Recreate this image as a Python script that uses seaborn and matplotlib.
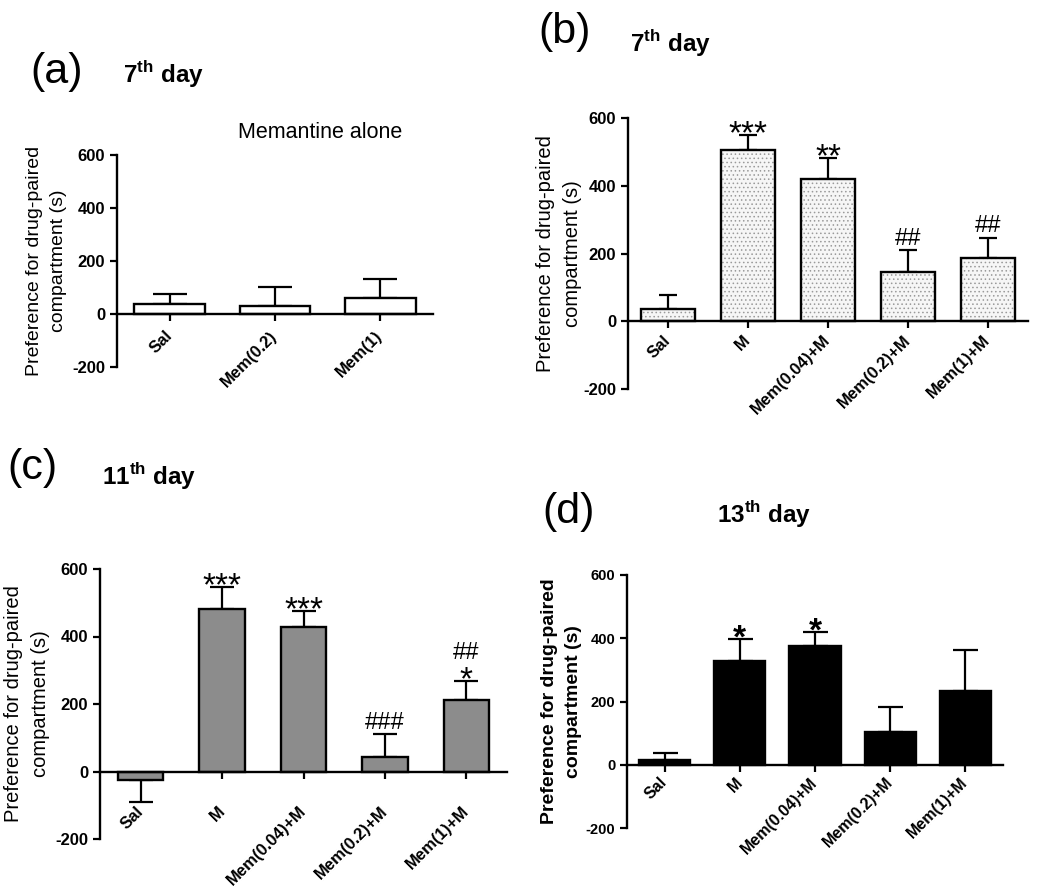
import numpy as np
import pandas as pd
import matplotlib
matplotlib.use("Agg")
import matplotlib.pyplot as plt
import seaborn as sns

# ---------------- data ----------------
cats_a = ["Sal", "Mem(0.2)", "Mem(1)"]
mean_a = [36, 31, 62]
sem_a = [39, 70, 69]

cats_bcd = ["Sal", "M", "Mem(0.04)+M", "Mem(0.2)+M", "Mem(1)+M"]

mean_b = [35, 507, 420, 146, 188]
sem_b = [43, 42, 61, 63, 58]
star_b = ["", "***", "**", "", ""]
hash_b = ["", "", "", "##", "##"]

mean_c = [-25, 482, 427, 42, 212]
sem_c = [64, 66, 49, 68, 55]
star_c = ["", "***", "***", "", "*"]
hash_c = ["", "", "", "###", "##"]

mean_d = [14, 328, 374, 105, 233]
sem_d = [23, 70, 45, 78, 129]
star_d = ["", "*", "*", "", ""]
hash_d = ["", "", "", "", ""]

yticks = [-200, 0, 200, 400, 600]
ylabel = "Preference for drug-paired\ncompartment (s)"

# ---------------- style ----------------
sns.set_theme(style="ticks")
plt.rcParams["font.family"] = ["Liberation Sans", "DejaVu Sans"]
plt.rcParams["mathtext.fontset"] = "custom"
plt.rcParams["mathtext.rm"] = "Liberation Sans"
plt.rcParams["mathtext.bf"] = "Liberation Sans:bold"
plt.rcParams["hatch.linewidth"] = 0.6
for k in ("text.color", "axes.labelcolor", "xtick.color", "ytick.color",
          "axes.edgecolor"):
    plt.rcParams[k] = "black"

W, H = 1050, 893
fig = plt.figure(figsize=(W / 100, H / 100), dpi=100)


def rect(x0, y0, x1, y1):
    return [x0 / W, 1 - y1 / H, (x1 - x0) / W, (y1 - y0) / H]


def panel(ax, cats, means, sems, face, width, capsize, hatch=None,
          xfs=12, yfs=12, lab_fs=14, lab_bold=False, lab_x=-0.12, xpad=9):
    n = len(cats)
    df = pd.DataFrame({"group": cats, "value": means})
    if hatch:
        sns.barplot(data=df, x="group", y="value", order=cats, color=face,
                    edgecolor="#9a9a9a", linewidth=0, width=width,
                    errorbar=None, hatch=hatch, ax=ax, zorder=2)
        sns.barplot(data=df, x="group", y="value", order=cats, color="black",
                    fill=False, linewidth=1.7, width=width, errorbar=None,
                    ax=ax, zorder=3)
    else:
        sns.barplot(data=df, x="group", y="value", order=cats, color=face,
                    edgecolor="black", linewidth=1.7, width=width,
                    saturation=1, errorbar=None, ax=ax, zorder=2)
    lo = [s if m < 0 else 0 for m, s in zip(means, sems)]
    hi = [0 if m < 0 else s for m, s in zip(means, sems)]
    ax.errorbar(np.arange(n), means, yerr=[lo, hi], fmt="none",
                ecolor="black", elinewidth=1.6, capsize=capsize,
                capthick=1.6, zorder=1)
    ax.set_xlim(-0.5, n - 0.5)
    ax.set_ylim(-200, 600)
    ax.spines["bottom"].set_position(("data", 0))
    ax.spines["top"].set_visible(False)
    ax.spines["right"].set_visible(False)
    for s in ("left", "bottom"):
        ax.spines[s].set_linewidth(1.7)
        ax.spines[s].set_color("black")
    ax.tick_params(axis="both", width=1.6, length=5, color="black",
                   labelcolor="black")
    ax.tick_params(axis="x", pad=xpad, labelrotation=45)
    ax.set_yticks(yticks)
    ax.set_yticklabels([str(t) for t in yticks], fontsize=yfs,
                       fontweight="bold")
    ax.set_xticks(np.arange(n))
    ax.set_xticklabels(cats, fontsize=xfs, fontweight="bold")
    for lab in ax.get_xticklabels():
        lab.set_rotation(45)
        lab.set_ha("right")
        lab.set_va("center")
        lab.set_rotation_mode("anchor")
    ax.set_xlabel("")
    ax.set_ylabel(ylabel, fontsize=lab_fs,
                  fontweight="bold" if lab_bold else "normal",
                  linespacing=1.55)
    ax.yaxis.set_label_coords(lab_x, 0.5)
    ax.set_facecolor("white")


def marks(ax, means, sems, stars, hashes, star_fs=24, hash_fs=17,
          star_bold=False):
    for i, (m, s) in enumerate(zip(means, sems)):
        top = m + s if m >= 0 else m
        off = 0
        if stars[i]:
            ax.annotate(stars[i], xy=(i, top), xytext=(0, -6),
                        textcoords="offset points", ha="center",
                        va="baseline", fontsize=star_fs,
                        fontweight="bold" if star_bold else "normal")
            off = 12
        if hashes[i]:
            ax.annotate(hashes[i], xy=(i, top), xytext=(0, 4 + off),
                        textcoords="offset points", ha="center",
                        va="baseline", fontsize=hash_fs)


# panel (a)
ax_a = fig.add_axes(rect(117, 155, 433, 367))
panel(ax_a, cats_a, mean_a, sem_a, "white", 0.67, 12, lab_x=-0.158, xpad=9)
ax_a.text(0.383, 1.104, "Memantine alone", transform=ax_a.transAxes,
          ha="left", va="center", fontsize=15.5)

# panel (b)
ax_b = fig.add_axes(rect(628, 118, 1028, 389))
panel(ax_b, cats_bcd, mean_b, sem_b, "#f6f6f6", 0.67, 6.5, hatch="....",
      lab_fs=14.5, lab_x=-0.115, xpad=7)
marks(ax_b, mean_b, sem_b, star_b, hash_b)

# panel (c)
ax_c = fig.add_axes(rect(100, 569, 507, 839))
panel(ax_c, cats_bcd, mean_c, sem_c, "#8c8c8c", 0.56, 8.3,
      lab_fs=14.5, lab_x=-0.123, xpad=22)
marks(ax_c, mean_c, sem_c, star_c, hash_c)

# panel (d)
ax_d = fig.add_axes(rect(627, 575, 1003, 828))
panel(ax_d, cats_bcd, mean_d, sem_d, "black", 0.68, 9,
      xfs=11.5, yfs=10.5, lab_fs=14, lab_bold=True, lab_x=-0.12, xpad=6)
marks(ax_d, mean_d, sem_d, star_d, hash_d, star_bold=True)

# panel letters and day titles
letters = [("(a)", 30, 72), ("(b)", 538, 32), ("(c)", 7, 468), ("(d)", 542, 512)]
for t, x, y in letters:
    fig.text(x / W, 1 - y / H, t, ha="left", va="center", fontsize=31)

days = [("7$^{\\mathbf{th}}$ day", 123, 83), ("7$^{\\mathbf{th}}$ day", 630, 52),
        ("11$^{\\mathbf{th}}$ day", 102, 485), ("13$^{\\mathbf{th}}$ day", 717, 523)]
for t, x, y in days:
    fig.text(x / W, 1 - y / H, t, ha="left", va="baseline", fontsize=17.5,
             fontweight="bold")

fig.savefig("out.png", dpi=100, facecolor="white")
